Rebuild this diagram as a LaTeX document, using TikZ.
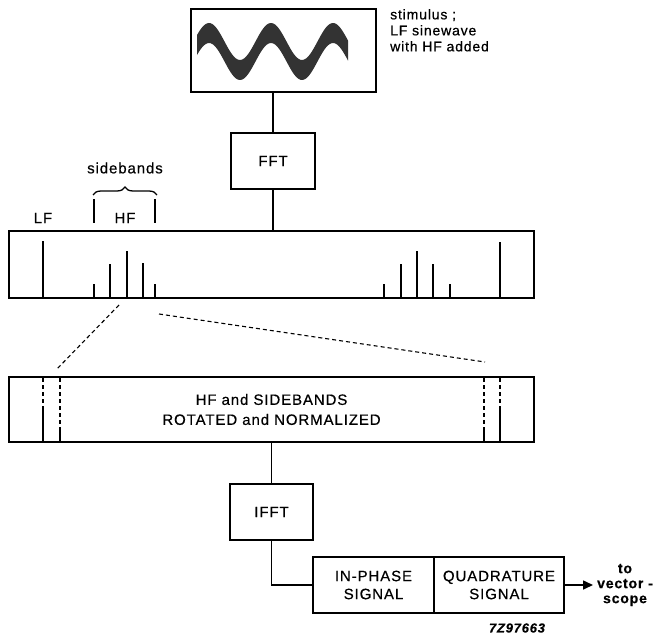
\documentclass[tikz,border=0pt]{standalone}
\usepackage{fontspec}
\setmainfont{Liberation Sans}[LetterSpace=6, FakeBold=0.5]
\usetikzlibrary{arrows.meta,positioning,calc,decorations.pathreplacing}

\begin{document}
\begin{tikzpicture}[
  x=1pt, y=-1pt,
  every node/.style = {font=\fontsize{15}{17}\selectfont, inner sep=0pt, align=center},
  blk/.style   = {draw, line width=1.7pt},
  wire/.style  = {line width=1.6pt},
  peak/.style  = {line width=2.4pt},
  zoomln/.style = {line width=1.1pt, dash pattern=on 4pt off 3pt},
  arr/.style   = {-{Triangle[length=10pt,width=9pt]}},
]
\useasboundingbox (0,0) rectangle (655,639);

% blocks
\node[blk, minimum width=185pt, minimum height=83pt] (stim) at (283.5,50.5) {};
\node[blk, minimum width=84pt, minimum height=56pt]  (fft)  at (273,161) {FFT};
\node[blk, minimum width=525pt, minimum height=67pt] (spec) at (271.5,264.5) {};
\node[blk, minimum width=525pt, minimum height=65pt] (rot)  at (271.5,409.5)
  {HF and SIDEBANDS\\[3pt]ROTATED and NORMALIZED};
\node[blk, minimum width=83pt, minimum height=56pt]  (ifft) at (271.5,512) {IFFT};
\node[blk, minimum width=121pt, minimum height=56pt] (inph) at (373.5,585)
  {IN-PHASE\\[1pt]SIGNAL};
\node[blk, minimum width=130pt, minimum height=56pt] (quad) at (499,585)
  {QUADRATURE\\[1pt]SIGNAL};

% stimulus wave
\fill[black!80] plot[domain=197:348, samples=90] (\x, {41.5-18.5*cos(5.806*(\x-209))})
  -- plot[domain=348:197, samples=90] (\x, {61.5-18.5*cos(5.806*(\x-209))}) -- cycle;
\node[anchor=north west, align=left, font=\fontsize{14}{16}\selectfont] (stimtxt) at (390,9)
  {stimulus ;\\LF sinewave\\with HF added};

% connectors
\draw[wire] (fft.north |- stim.south) -- (fft.north);
\draw[wire] (fft.south) -- (fft.south |- spec.north);
\draw[wire] (ifft.north |- rot.south) -- (ifft.north);
\draw[wire] (ifft.south) |- (inph.west);
\coordinate (out) at (593,585);
\draw[wire, arr] (quad.east) -- (out);
\node[font=\fontsize{14}{15}\selectfont\bfseries, right=4pt of out] (scope)
  {to\\vector -\\scope};

% spectrum
\foreach \x/\t in {43/241, 94/284, 110/264, 127/251, 143/263, 155/284,
                   384/284, 401/264, 417/251, 433/264, 450/284, 500/242}
  \draw[peak] (\x,297) -- (\x,\t);
\node (lf) at (43,218) {LF};
\node (hf) at (125,218) {HF};
\draw[wire] (94,199) -- (94,223);
\draw[wire] (155,199) -- (155,223);
\draw[line width=1.3pt, decorate, decoration={brace, amplitude=8pt}] (93,195) -- (157,195);
\node (sb) at (125,168) {sidebands};

% zoom lines
\coordinate (zl1) at (119,305);
\coordinate (zl2) at (56,370);
\coordinate (zr1) at (159,314);
\coordinate (zr2) at (485,362);
\draw[zoomln] (zl1) -- (zl2);
\draw[zoomln] (zr1) -- (zr2);

% rotated components
\foreach \x/\t in {43/409, 60/428, 484/430, 500/410} {
  \draw[zoomln] (\x,378) -- (\x,\t);
  \draw[peak] (\x,\t) -- (\x,441);
}

\node[font=\fontsize{13}{15}\selectfont\bfseries\itshape] (fig) at (517,628) {7Z97663};
\end{tikzpicture}
\end{document}
